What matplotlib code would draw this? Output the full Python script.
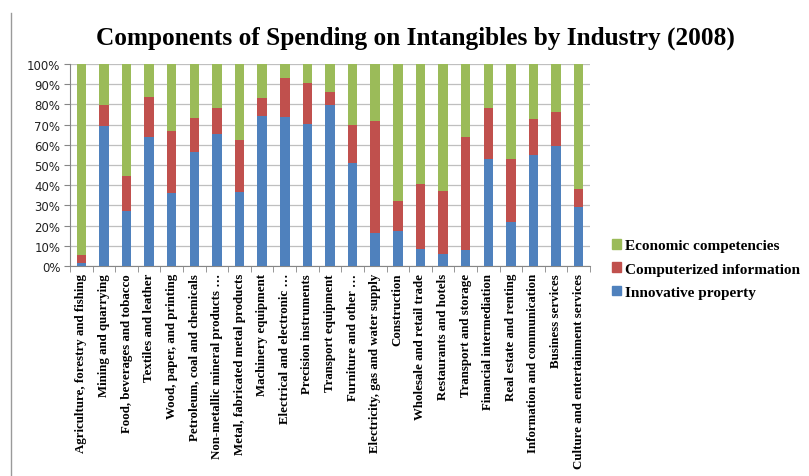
import numpy as np
import matplotlib
matplotlib.use("Agg")
import matplotlib.pyplot as plt
from matplotlib.lines import Line2D
from matplotlib.patches import Patch

industries = [
    "Agriculture, forestry and fishing",
    "Mining and quarrying",
    "Food, beverages and tobacco",
    "Textiles and leather",
    "Wood, paper, and printing",
    "Petroleum, coal and chemicals",
    "Non-metallic mineral products …",
    "Metal, fabricated metal products",
    "Machinery equipment",
    "Electrical and electronic …",
    "Precision instruments",
    "Transport equipment",
    "Furniture and other …",
    "Electricity, gas and water supply",
    "Construction",
    "Wholesale and retail trade",
    "Restaurants and hotels",
    "Transport and storage",
    "Financial intermediation",
    "Real estate and renting",
    "Information and communication",
    "Business services",
    "Culture and entertainment services",
]

# shares in percent
innovative = [1.7, 69.4, 27.3, 64.0, 35.9, 56.2, 65.3, 36.4, 74.2, 73.9, 70.2, 79.8,
              51.2, 16.4, 17.4, 8.4, 5.8, 7.8, 53.1, 21.8, 54.9, 59.3, 29.4]
computerized = [3.6, 10.4, 17.2, 19.8, 31.0, 17.2, 12.9, 26.1, 9.1, 19.3, 20.2, 6.2,
                18.7, 55.5, 14.8, 32.4, 31.1, 56.0, 25.1, 31.1, 18.0, 17.1, 8.5]
economic = [100 - a - b for a, b in zip(innovative, computerized)]

c_blue = "#4F81BD"
c_red = "#C0504D"
c_green = "#9BBB59"

fig = plt.figure(figsize=(8.09, 4.77), dpi=100)
ax = fig.add_axes([70 / 809, 1 - 267 / 477, 520 / 809, 202 / 477])

x = np.arange(len(industries))
w = 0.42
ax.bar(x, innovative, w, color=c_blue, zorder=3)
ax.bar(x, computerized, w, bottom=innovative, color=c_red, zorder=3)
bot2 = [a + b for a, b in zip(innovative, computerized)]
ax.bar(x, economic, w, bottom=bot2, color=c_green, zorder=3)

ax.set_xlim(-0.5, len(industries) - 0.5)
ax.set_ylim(0, 100)
ax.set_yticks(range(0, 101, 10))
ax.set_yticklabels([f"{v}%" for v in range(0, 101, 10)], fontsize=8.5,
                   family="DejaVu Sans", color="#222222")
ax.yaxis.grid(True, color="#BFBFBF", linewidth=0.9, zorder=0)

ax.set_xticks(x)
ax.set_xticklabels(industries, rotation=90, family="Liberation Serif",
                   fontweight="bold", fontsize=9.3, va="top", ha="center")
ax.set_xticks(np.arange(-0.5, len(industries), 1), minor=True)
ax.tick_params(axis="x", which="major", length=0, pad=5)
ax.tick_params(axis="x", which="minor", length=4, color="#868686", direction="out")
ax.tick_params(axis="y", length=4, color="#868686", direction="out", pad=3)

for s in ["top", "right"]:
    ax.spines[s].set_visible(False)
ax.spines["left"].set_color("#868686")
ax.spines["bottom"].set_color("#868686")

fig.text(415 / 809, 1 - 38 / 477, "Components of Spending on Intangibles by Industry (2008)",
         ha="center", va="center", family="Liberation Serif", fontweight="bold",
         fontsize=18.2)

handles = [Patch(color=c_green), Patch(color=c_red), Patch(color=c_blue)]
labels = ["Economic competencies", "Computerized information", "Innovative property"]
leg = fig.legend(handles, labels, loc="upper left", bbox_to_anchor=(606 / 809, 1 - 234 / 477),
                 frameon=False, handlelength=0.6, handleheight=0.6, handletextpad=0.25,
                 labelspacing=0.66, borderaxespad=0, prop={"family": "Liberation Serif",
                                                           "weight": "bold", "size": 11})

fig.add_artist(Line2D([11 / 809, 11 / 809], [0, 1 - 14 / 477], color="#9A9A9A",
                      linewidth=1, transform=fig.transFigure))

fig.savefig("out.png", dpi=100)
